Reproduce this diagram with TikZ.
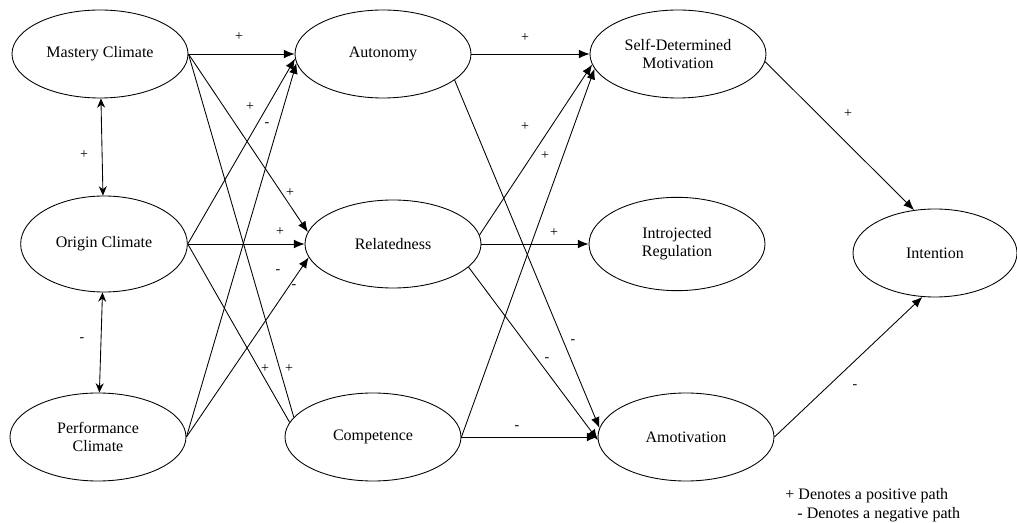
\documentclass[tikz,border=0pt]{standalone}
\usepackage{fontspec}
\setmainfont{Liberation Serif}
\usetikzlibrary{shapes.geometric,arrows.meta}

\begin{document}
\begin{tikzpicture}[x=0.75pt,y=-0.75pt,line width=0.65pt,
	var/.style={draw,ellipse,minimum width=132pt,minimum height=66pt,inner sep=0pt,align=center,font=\fontsize{12}{13.5}\selectfont},
	arr/.style={-{Latex[length=8pt,width=6.5pt]}},
	cov/.style={{Stealth[length=7pt,width=6pt]}-{Stealth[length=7pt,width=6pt]}},
	sgn/.style={font=\fontsize{10.5}{10.5}\selectfont,inner sep=0pt}]
	\useasboundingbox (0,0) rectangle (1017,523);
	% climates
	\node[var] (ma) at (100,54) {Mastery Climate};
	\node[var,minimum width=125pt,minimum height=72pt] (ori) at (104,244) {Origin Climate};
	\node[var] (pe) at (98,437) {Performance\\Climate};
	% needs
	\node[var] (au) at (383,54) {Autonomy};
	\node[var] (re) at (393,244) {Relatedness};
	\node[var] (co) at (373,437) {Competence};
	% motivation
	\node[var] (sd) at (678,54) {Self-Determined\\Motivation};
	\node[var,minimum height=70pt] (ij) at (677,244) {Introjected\\Regulation};
	\node[var] (am) at (686,437) {Amotivation};
	\node[var,minimum width=123pt] (in) at (935,253) {Intention};
	% correlations
	\draw[cov] (ma) -- (ori);
	\draw[cov] (ori) -- (pe);
	% climate -> needs
	\draw[arr] (ma.east) -- (au.west);
	\draw[arr] (ma.east) -- (re.172);
	\draw (ma.east) -- (co.166);
	\draw[arr] (ori.east) -- (au.183);
	\draw[arr] (ori.east) -- (re.west);
	\draw (ori.east) -- (co.170);
	\draw[arr] (pe.east) -- (au.186);
	\draw[arr] (pe.east) -- (re.189);
	% needs -> motivation
	\draw[arr] (au.east) -- (sd.west);
	\draw[arr] (au.-20) -- (am.174);
	\draw[arr] (re.6) -- (sd.187);
	\draw[arr] (re.east) -- (ij.west);
	\draw[arr] (re.-17) -- (am.182);
	\draw[arr] (co.east) -- (sd.190);
	\draw[arr] (co.east) -- (am.west);
	% motivation -> intention
	\draw[arr] (sd.-5) -- (in.116);
	\draw[arr] (am.east) -- (in.254);
	% signs
	\node[sgn] (s1) at (84,155) {+};
	\node[sgn] (s2) at (82,340) {-};
	\node[sgn] (s3) at (239,37) {+};
	\node[sgn] (s4) at (250,107) {+};
	\node[sgn] (s5) at (267,125) {-};
	\node[sgn] (s6) at (290,193) {+};
	\node[sgn] (s7) at (280,232) {+};
	\node[sgn] (s8) at (278,272) {-};
	\node[sgn] (s9) at (294,287) {-};
	\node[sgn] (s10) at (265,369) {+};
	\node[sgn] (s11) at (289,369) {+};
	\node[sgn] (s12) at (525,38) {+};
	\node[sgn] (s13) at (525,127) {+};
	\node[sgn] (s14) at (545,156) {+};
	\node[sgn] (s15) at (554,233) {+};
	\node[sgn] (s16) at (573,342) {-};
	\node[sgn] (s17) at (547,360) {-};
	\node[sgn] (s18) at (517,428) {-};
	\node[sgn] (s19) at (848,114) {+};
	\node[sgn] (s20) at (855,387) {-};
	% legend
	\node[anchor=west,inner sep=0pt,font=\fontsize{12}{12}\selectfont] (lg1) at (785,496) {+ Denotes a positive path};
	\node[anchor=west,inner sep=0pt,font=\fontsize{12}{12}\selectfont] (lg2) at (797,515) {- Denotes a negative path};
\end{tikzpicture}
\end{document}
